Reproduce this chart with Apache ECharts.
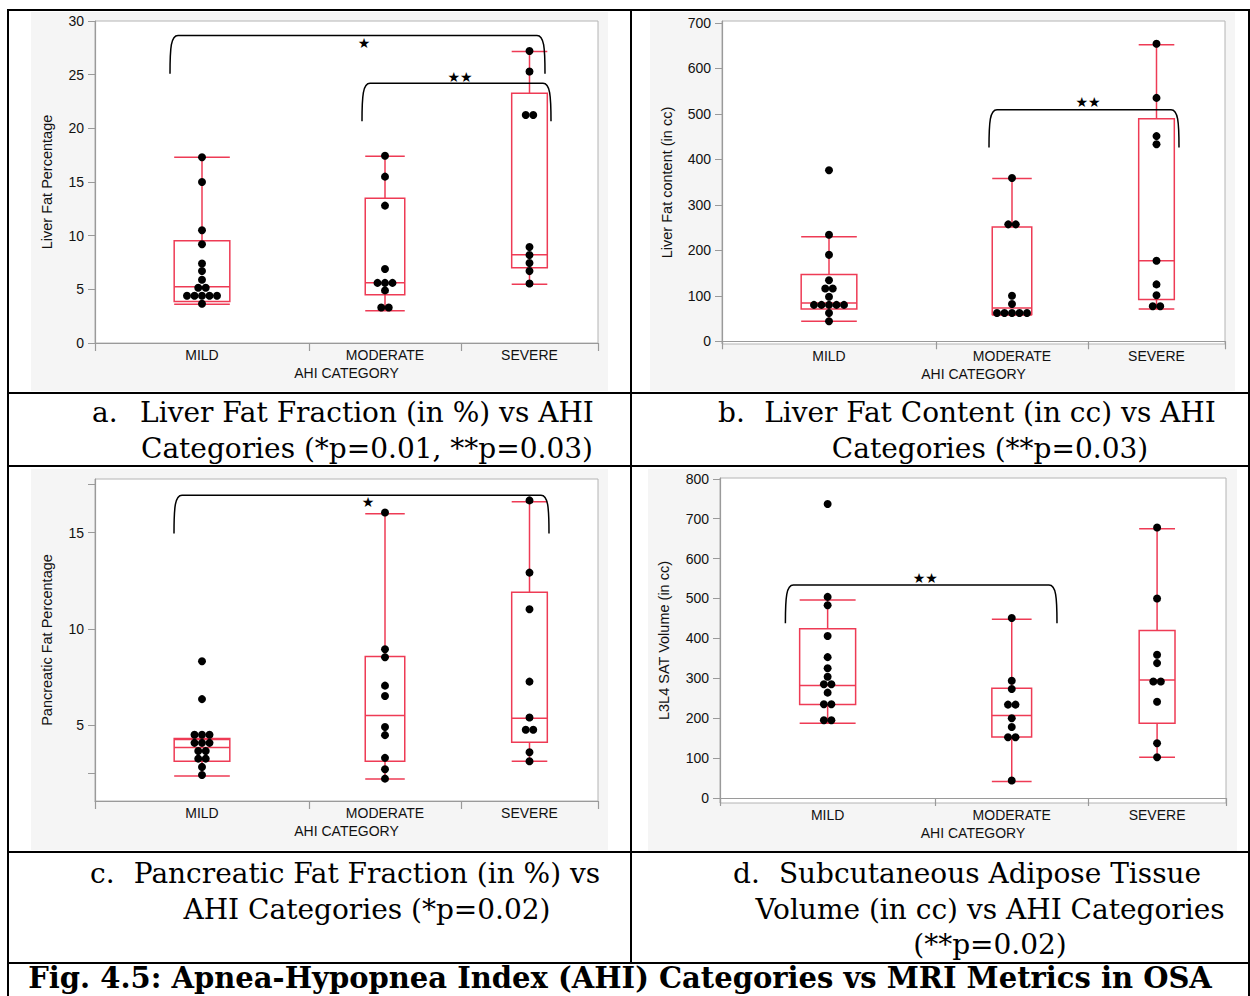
<!DOCTYPE html>
<html>
<head>
<meta charset="utf-8">
<title>AHI Categories vs MRI Metrics</title>
<script src="https://cdn.jsdelivr.net/npm/echarts@6/dist/echarts.min.js"></script>
<style>
    html, body { margin: 0; padding: 0; background: #fff; }
    #main { width: 1250px; height: 996px; }
</style>
</head>
<body>
<div id="main"></div>
<script>
    // categories (JMP draws each group wider when it has more subjects)
    var categories = ['MILD', 'MODERATE', 'SEVERE'];
    var catWidths = [214, 152, 137];

    // a. liver fat percentage
    var liverPctDots = [
        [17.3, 15.0, 10.5, 9.2, 7.4, 6.7, 5.9, 5.15, 5.15, 4.4, 4.4, 4.4, 4.4, 4.4, 3.65],
        [17.45, 15.5, 12.8, 6.9, 5.6, 5.6, 5.6, 4.9, 3.3, 3.3],
        [27.2, 25.3, 21.25, 21.25, 8.95, 8.2, 7.45, 6.7, 5.55]
    ];
    // [lower whisker, q1, median, q3, upper whisker]
    var liverPctBox = [
        [3.6, 3.86, 5.23, 9.53, 17.3],
        [3.0, 4.49, 5.61, 13.49, 17.4],
        [5.48, 7.01, 8.22, 23.27, 27.17]
    ];
    // [from x, to x, top, leg end, label x, label y, label]
    var liverPctBrackets = [
        [75, 450, 28.66, 25.08, 269, 27.97, '★'],
        [267, 456, 24.2, 20.65, 365, 24.8, '★★']
    ];
    var liverPctTicks = [0, 5, 10, 15, 20, 25, 30];

    // b. liver fat content (cc)
    var liverCcDots = [
        [376, 234, 190, 134, 116, 116, 98, 80, 80, 80, 80, 80, 62, 44],
        [359, 257, 257, 100, 82, 62, 62, 62, 62, 62],
        [654, 535, 451, 433, 177, 125, 101, 77, 77]
    ];
    var liverCcBox = [
        [44, 71, 84, 147, 230],
        [57.5, 58.7, 73, 251, 358],
        [71, 92, 177, 489, 652]
    ];
    var liverCcBrackets = [
        [267, 457, 509, 426, 366, 525, '★★']
    ];
    var liverCcTicks = [0, 100, 200, 300, 400, 500, 600, 700];

    // c. pancreatic fat percentage
    var pancPctDots = [
        [8.32, 6.35, 4.5, 4.5, 4.5, 4.08, 4.08, 4.08, 3.66, 3.66, 3.26, 3.26, 2.83, 2.41],
        [16.04, 8.94, 8.52, 7.05, 6.51, 4.9, 4.48, 3.3, 2.71, 2.22],
        [16.67, 12.92, 11.02, 7.26, 5.4, 4.76, 4.76, 3.59, 3.12]
    ];
    var pancPctBox = [
        [2.36, 3.12, 3.84, 4.31, 4.25],
        [2.2, 3.12, 5.5, 8.56, 15.97],
        [3.12, 4.11, 5.36, 11.9, 16.6]
    ];
    var pancPctBrackets = [
        [79, 454, 16.94, 14.95, 273, 16.6, '★']
    ];
    var pancPctTicks = [2.5, 5, 10, 15, 17.5];
    var pancPctLabels = [5, 10, 15];

    // d. L3L4 SAT volume (cc)
    var satDots = [
        [737, 504, 483, 406, 353, 325, 304, 285, 285, 264, 235, 235, 195, 195],
        [451, 294, 273, 234, 234, 200, 178, 152, 152, 44],
        [678, 500, 359, 338, 292, 292, 241, 137, 102]
    ];
    var satBox = [
        [187, 234.5, 282, 424, 496],
        [41, 153, 207, 275, 448],
        [102, 187, 296, 420, 675]
    ];
    var satBrackets = [
        [65, 335, 533.5, 438, 204, 551, '★★']
    ];
    var satTicks = [0, 100, 200, 300, 400, 500, 600, 700, 800];

    var BOX_COLOR = '#ee3b55';
    var FRAME = '#b4b4b4';
    var AXIS = '#9a9a9a';
    var SANS = '"Liberation Sans", Arial, sans-serif';
    var SERIF = '"DejaVu Serif", Georgia, serif';
    var DOT_GAP = 7.5;

    var catEdges = [0];
    catWidths.forEach(function (w, i) { catEdges.push(catEdges[i] + w); });
    var catCenters = catWidths.map(function (w, i) { return catEdges[i] + w / 2; });
    var xMax = catEdges[catEdges.length - 1];

    var panels = [
        {grid: {left: 95, top: 21, width: 503, height: 322}, yMin: 0, yMax: 30,
            ticks: liverPctTicks, labels: liverPctTicks, yName: 'Liver Fat Percentage', nameGap: 41,
            dots: liverPctDots, box: liverPctBox, brackets: liverPctBrackets},
        {grid: {left: 722, top: 21, width: 503, height: 323}, yMin: -6, yMax: 704,
            ticks: liverCcTicks, labels: liverCcTicks, yName: 'Liver Fat content (in cc)', nameGap: 48,
            dots: liverCcDots, box: liverCcBox, brackets: liverCcBrackets},
        {grid: {left: 95, top: 479, width: 503, height: 322}, yMin: 1.06, yMax: 17.78,
            ticks: pancPctTicks, labels: pancPctLabels, yName: 'Pancreatic Fat Percentage', nameGap: 41,
            dots: pancPctDots, box: pancPctBox, brackets: pancPctBrackets},
        {grid: {left: 720, top: 478, width: 506, height: 325}, yMin: -12.6, yMax: 802,
            ticks: satTicks, labels: satTicks, yName: 'L3L4 SAT Volume (in cc)', nameGap: 49,
            dots: satDots, box: satBox, brackets: satBrackets}
    ];

    function dotData(groups) {
        var out = [];
        groups.forEach(function (vals, i) {
            var counts = {}, seen = {};
            vals.forEach(function (v) { counts[v] = (counts[v] || 0) + 1; });
            vals.forEach(function (v) {
                var k = seen[v] = (seen[v] || 0) + 1;
                var off = (k - 1 - (counts[v] - 1) / 2) * DOT_GAP;
                out.push({value: [catCenters[i], v], symbolOffset: [off, 0]});
            });
        });
        return out;
    }

    function renderBox(params, api) {
        var c = api.value(0);
        var lo = api.coord([c, api.value(2)]);
        var q1 = api.coord([c, api.value(3)]);
        var md = api.coord([c, api.value(4)]);
        var q3 = api.coord([c, api.value(5)]);
        var hi = api.coord([c, api.value(6)]);
        var half = api.size([api.value(1), 0])[0] / 2;
        var x = lo[0];
        var st = {stroke: BOX_COLOR, lineWidth: 1.5, fill: null};
        return {type: 'group', children: [
            {type: 'line', shape: {x1: x, y1: hi[1], x2: x, y2: q3[1]}, style: st},
            {type: 'line', shape: {x1: x, y1: q1[1], x2: x, y2: lo[1]}, style: st},
            {type: 'line', shape: {x1: x - half, y1: hi[1], x2: x + half, y2: hi[1]}, style: st},
            {type: 'line', shape: {x1: x - half, y1: lo[1], x2: x + half, y2: lo[1]}, style: st},
            {type: 'rect', shape: {x: x - half, y: q3[1], width: 2 * half, height: q1[1] - q3[1]}, style: st},
            {type: 'line', shape: {x1: x - half, y1: md[1], x2: x + half, y2: md[1]}, style: st}
        ]};
    }

    function bracketRenderer(list) {
        return function (params, api) {
            var b = list[params.dataIndex];
            var p1 = api.coord([b[0], b[2]]);
            var p2 = api.coord([b[1], b[3]]);
            var lab = api.coord([b[4], b[5]]);
            var x1 = p1[0], x2 = p2[0], yt = p1[1], yb = p2[1];
            var d = 'M' + x1 + ' ' + yb +
                ' C' + x1 + ' ' + (yt + 12) + ' ' + (x1 + 1) + ' ' + yt + ' ' + (x1 + 8) + ' ' + yt +
                ' L' + (x2 - 8) + ' ' + yt +
                ' C' + (x2 - 1) + ' ' + yt + ' ' + x2 + ' ' + (yt + 12) + ' ' + x2 + ' ' + yb;
            return {type: 'group', children: [
                {type: 'path', shape: {pathData: d}, style: {stroke: '#000', fill: null, lineWidth: 1.5}},
                {type: 'text', x: lab[0], y: lab[1], style: {text: b[6], fill: '#000', font: '14px "DejaVu Sans"', align: 'center', verticalAlign: 'middle'}}
            ]};
        };
    }

    var grids = [], xAxes = [], yAxes = [], series = [];
    panels.forEach(function (p, i) {
        grids.push(Object.assign({show: true, backgroundColor: '#fff', borderColor: FRAME, borderWidth: 1}, p.grid));
        xAxes.push({
            type: 'value', gridIndex: i, min: 0, max: xMax,
            axisLine: {show: true, lineStyle: {color: AXIS, width: 1.2}},
            axisTick: {show: true, customValues: catEdges, length: 8, lineStyle: {color: AXIS, width: 1.2}},
            axisLabel: {customValues: catCenters, margin: 5, color: '#111', fontSize: 14, fontFamily: SANS,
                formatter: function (v) { return categories[catCenters.indexOf(v)] || ''; }},
            splitLine: {show: false},
            name: 'AHI CATEGORY', nameLocation: 'middle', nameGap: 23,
            nameTextStyle: {color: '#111', fontSize: 14, fontFamily: SANS}
        });
        yAxes.push({
            type: 'value', gridIndex: i, min: p.yMin, max: p.yMax,
            axisLine: {show: true, lineStyle: {color: AXIS, width: 1.2}},
            axisTick: {show: true, customValues: p.ticks, length: 7, lineStyle: {color: AXIS}},
            axisLabel: {customValues: p.labels, margin: 11, color: '#111', fontSize: 14, fontFamily: SANS},
            splitLine: {show: false},
            name: p.yName, nameLocation: 'middle', nameRotate: 90, nameGap: p.nameGap,
            nameTextStyle: {color: '#111', fontSize: 14.5, fontFamily: SANS}
        });
        series.push({
            type: 'custom', xAxisIndex: i, yAxisIndex: i, renderItem: renderBox, silent: true, z: 2,
            data: p.box.map(function (b, k) { return [catCenters[k], catWidths[k] * 0.26].concat(b); })
        });
        series.push({
            type: 'scatter', xAxisIndex: i, yAxisIndex: i, symbolSize: 8, silent: true, z: 3,
            itemStyle: {color: '#000', opacity: 1}, data: dotData(p.dots)
        });
        series.push({
            type: 'custom', xAxisIndex: i, yAxisIndex: i, renderItem: bracketRenderer(p.brackets), silent: true, z: 4,
            data: p.brackets.map(function (b) { return [b[0], b[2]]; })
        });
    });

    function hline(y, x1, x2) {
        return {type: 'line', z: 100, shape: {x1: x1, y1: y, x2: x2, y2: y}, style: {stroke: '#000', lineWidth: 2}};
    }
    function vline(x, y1, y2) {
        return {type: 'line', z: 100, shape: {x1: x, y1: y1, x2: x, y2: y2}, style: {stroke: '#000', lineWidth: 2}};
    }
    function bg(x, y, w, h) {
        return {type: 'rect', z: -10, shape: {x: x, y: y, width: w, height: h}, style: {fill: '#f5f5f5'}};
    }
    function cap(text, x, y, align) {
        return {type: 'text', z: 100, x: x, y: y,
            style: {text: text, fill: '#000', font: '28px ' + SERIF, align: align || 'center', verticalAlign: 'middle'}};
    }

    var elements = [
        bg(31, 12, 577, 379), bg(650, 12, 585, 379), bg(31, 469, 577, 381), bg(648, 469, 589, 383),
        hline(10, 7, 1250), hline(393, 7, 1250), hline(466, 7, 1250), hline(852, 7, 1250), hline(963, 7, 1250),
        vline(8, 9, 996), vline(631, 9, 963), vline(1249, 9, 996),
        cap('a.', 92, 412, 'left'), cap('Liver Fat Fraction (in %) vs AHI', 367, 412),
        cap('Categories (*p=0.01, **p=0.03)', 367, 448),
        cap('b.', 718, 412, 'left'), cap('Liver Fat Content (in cc) vs AHI', 990, 412),
        cap('Categories (**p=0.03)', 990, 448),
        cap('c.', 90, 873, 'left'), cap('Pancreatic Fat Fraction (in %) vs', 367, 873),
        cap('AHI Categories (*p=0.02)', 367, 909),
        cap('d.', 733, 873, 'left'), cap('Subcutaneous Adipose Tissue', 990, 873),
        cap('Volume (in cc) vs AHI Categories', 990, 909),
        cap('(**p=0.02)', 990, 944),
        {type: 'text', z: 100, x: 620, y: 978,
            style: {text: 'Fig. 4.5: Apnea-Hypopnea Index (AHI) Categories vs MRI Metrics in OSA',
                fill: '#000', font: 'bold 29px ' + SERIF, align: 'center', verticalAlign: 'middle'}}
    ];

    var myChart = echarts.init(document.getElementById('main'), null, {renderer: 'svg'});
    myChart.setOption({
        animation: false,
        textStyle: {fontFamily: SANS},
        grid: grids,
        xAxis: xAxes,
        yAxis: yAxes,
        series: series,
        graphic: {elements: elements}
    });
</script>
</body>
</html>
